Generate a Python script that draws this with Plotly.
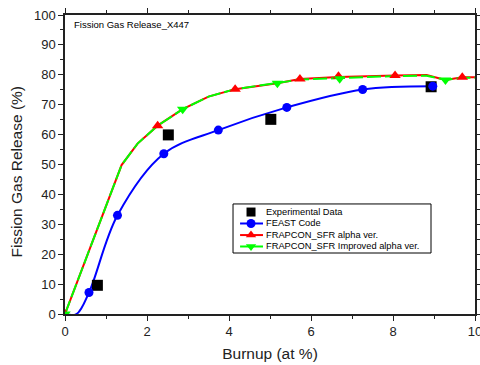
import plotly.graph_objects as go

# Experimental data
exp_x = [0.79, 2.52, 5.02, 8.93]
exp_y = [9.6, 59.9, 65.1, 76.0]

# FEAST code (line points and marker points)
feast_line_x = [0.0, 0.28, 0.585, 1.28, 2.41, 3.74, 5.41, 7.26, 8.97]
feast_line_y = [0.0, 0.0, 7.2, 33.0, 53.6, 61.5, 69.1, 75.1, 76.2]
feast_mk_x = [0.585, 1.28, 2.41, 3.74, 5.41, 7.26, 8.97]
feast_mk_y = [7.2, 33.0, 53.6, 61.5, 69.1, 75.1, 76.2]

# FRAPCON_SFR alpha ver.
alpha_line_x = [0.0, 1.38, 1.77, 2.26, 2.87, 3.5, 4.15, 5.18, 5.73, 6.67, 8.05, 8.82, 9.28, 9.69, 10.0]
alpha_line_y = [0.0, 49.8, 57.0, 63.0, 68.5, 72.7, 75.2, 77.2, 78.6, 79.3, 79.8, 79.9, 78.3, 79.2, 79.2]
alpha_mk_x = [0.0, 2.26, 4.15, 5.73, 6.67, 8.05, 9.69]
alpha_mk_y = [0.0, 63.0, 75.2, 78.6, 79.5, 79.8, 79.2]

# FRAPCON_SFR Improved alpha ver.
impr_line_x = [0.0, 1.38, 1.77, 2.26, 2.87, 3.5, 4.15, 5.18, 5.73, 6.7, 8.05, 8.82, 9.28, 9.69, 10.0]
impr_line_y = [0.0, 49.8, 57.0, 63.0, 68.5, 72.7, 75.2, 77.2, 78.4, 78.9, 79.6, 79.7, 78.3, 79.0, 79.0]
impr_mk_x = [0.0, 2.87, 5.18, 6.7, 9.28]
impr_mk_y = [0.0, 68.5, 77.2, 78.7, 78.3]

series_names = ["Experimental Data", "FEAST Code", "FRAPCON_SFR alpha ver.",
                "FRAPCON_SFR Improved alpha ver."]

x_ticks = [0, 2, 4, 6, 8, 10]
y_ticks = [0, 10, 20, 30, 40, 50, 60, 70, 80, 90, 100]

BLUE = "#0000ff"
RED = "#ff0000"
GREEN = "#00ff00"
AX = "#222222"
FONT = "Liberation Sans, Arial"

fig = go.Figure()

# lines
fig.add_trace(go.Scatter(x=feast_line_x, y=feast_line_y, mode="lines",
                         line=dict(color=BLUE, width=2, shape="spline", smoothing=1.0),
                         showlegend=False, hoverinfo="skip"))
fig.add_trace(go.Scatter(x=alpha_line_x, y=alpha_line_y, mode="lines",
                         line=dict(color=RED, width=2), showlegend=False, hoverinfo="skip"))
fig.add_trace(go.Scatter(x=impr_line_x, y=impr_line_y, mode="lines",
                         line=dict(color=GREEN, width=2, dash="14px,4px"),
                         showlegend=False, hoverinfo="skip"))

# markers
fig.add_trace(go.Scatter(x=exp_x, y=exp_y, mode="markers",
                         marker=dict(symbol="square", size=11, color="black"), showlegend=False))
fig.add_trace(go.Scatter(x=feast_mk_x, y=feast_mk_y, mode="markers",
                         marker=dict(symbol="circle", size=9, color=BLUE), showlegend=False))
fig.add_trace(go.Scatter(x=alpha_mk_x, y=alpha_mk_y, mode="markers",
                         marker=dict(symbol="triangle-up", size=10, color=RED), showlegend=False))
fig.add_trace(go.Scatter(x=impr_mk_x, y=impr_mk_y, mode="markers",
                         marker=dict(symbol="triangle-down", size=10, color=GREEN), showlegend=False))

# compact legend drawn on an overlay axis spanning [0,1] x [0,1]
lg_box = dict(x0=0.4098, x1=0.8927, y0=0.204, y1=0.368)
lg_rows = [0.341, 0.3027, 0.264, 0.2258]
lg_line_x = [0.427, 0.483]
lg_mk_x = 0.4537
lg_text_x = 0.485
lg_styles = [
    (None, dict(symbol="square", size=9, color="black")),
    (BLUE, dict(symbol="circle", size=9, color=BLUE)),
    (RED, dict(symbol="triangle-up", size=9, color=RED)),
    (GREEN, dict(symbol="triangle-down", size=9, color=GREEN)),
]
shapes = [dict(type="rect", xref="paper", yref="paper", layer="below",
               fillcolor="white", line=dict(color="black", width=1), **lg_box)]
annotations = []
for name, yr, (lc, mk) in zip(series_names, lg_rows, lg_styles):
    if lc is not None:
        fig.add_trace(go.Scatter(x=lg_line_x, y=[yr, yr], mode="lines", xaxis="x2", yaxis="y2",
                                 line=dict(color=lc, width=2), showlegend=False, hoverinfo="skip",
                                 cliponaxis=False))
    fig.add_trace(go.Scatter(x=[lg_mk_x], y=[yr], mode="markers", xaxis="x2", yaxis="y2",
                             marker=mk, showlegend=False, hoverinfo="skip", cliponaxis=False))
    annotations.append(dict(text=name, xref="paper", yref="paper", x=lg_text_x, y=yr,
                            xanchor="left", yanchor="middle", showarrow=False,
                            font=dict(family=FONT, size=9.3, color="black")))

annotations.append(dict(text="Fission Gas Release_X447", xref="paper", yref="paper",
                        x=0.018, y=0.967, xanchor="left", yanchor="middle", showarrow=False,
                        font=dict(family=FONT, size=9.5, color="black")))
annotations.append(dict(text="Fission Gas Release (%)", xref="paper", yref="paper",
                        x=-0.116, y=0.475, xanchor="center", yanchor="middle", showarrow=False,
                        textangle=-90, font=dict(family=FONT, size=15.5, color=AX)))

axis_common = dict(
    showline=True, linecolor=AX, linewidth=1.5, mirror="ticks",
    ticks="outside", ticklen=5, tickwidth=1, tickcolor=AX,
    showgrid=False, zeroline=False, automargin=False, ticklabeloverflow="allow",
    tickfont=dict(family=FONT, size=13, color=AX),
)

fig.update_layout(
    width=480, height=365,
    margin=dict(l=65, r=5, t=15, b=51),
    paper_bgcolor="white", plot_bgcolor="white",
    showlegend=False,
    xaxis=dict(range=[0, 10], tickvals=x_ticks, ticktext=[str(v) for v in x_ticks],
               minor=dict(dtick=1, ticks="outside", ticklen=3, tickcolor=AX),
               title=dict(text="Burnup (at %)", font=dict(family=FONT, size=15.5, color=AX), standoff=10),
               **axis_common),
    yaxis=dict(range=[0, 100], tickvals=y_ticks, ticktext=[str(v) for v in y_ticks],
               minor=dict(dtick=5, ticks="outside", ticklen=3, tickcolor=AX),
               **axis_common),
    xaxis2=dict(range=[0, 1], overlaying="x", visible=False, fixedrange=True),
    yaxis2=dict(range=[0, 1], overlaying="y", visible=False, fixedrange=True),
    shapes=shapes,
    annotations=annotations,
)

fig.write_html("out.html")
